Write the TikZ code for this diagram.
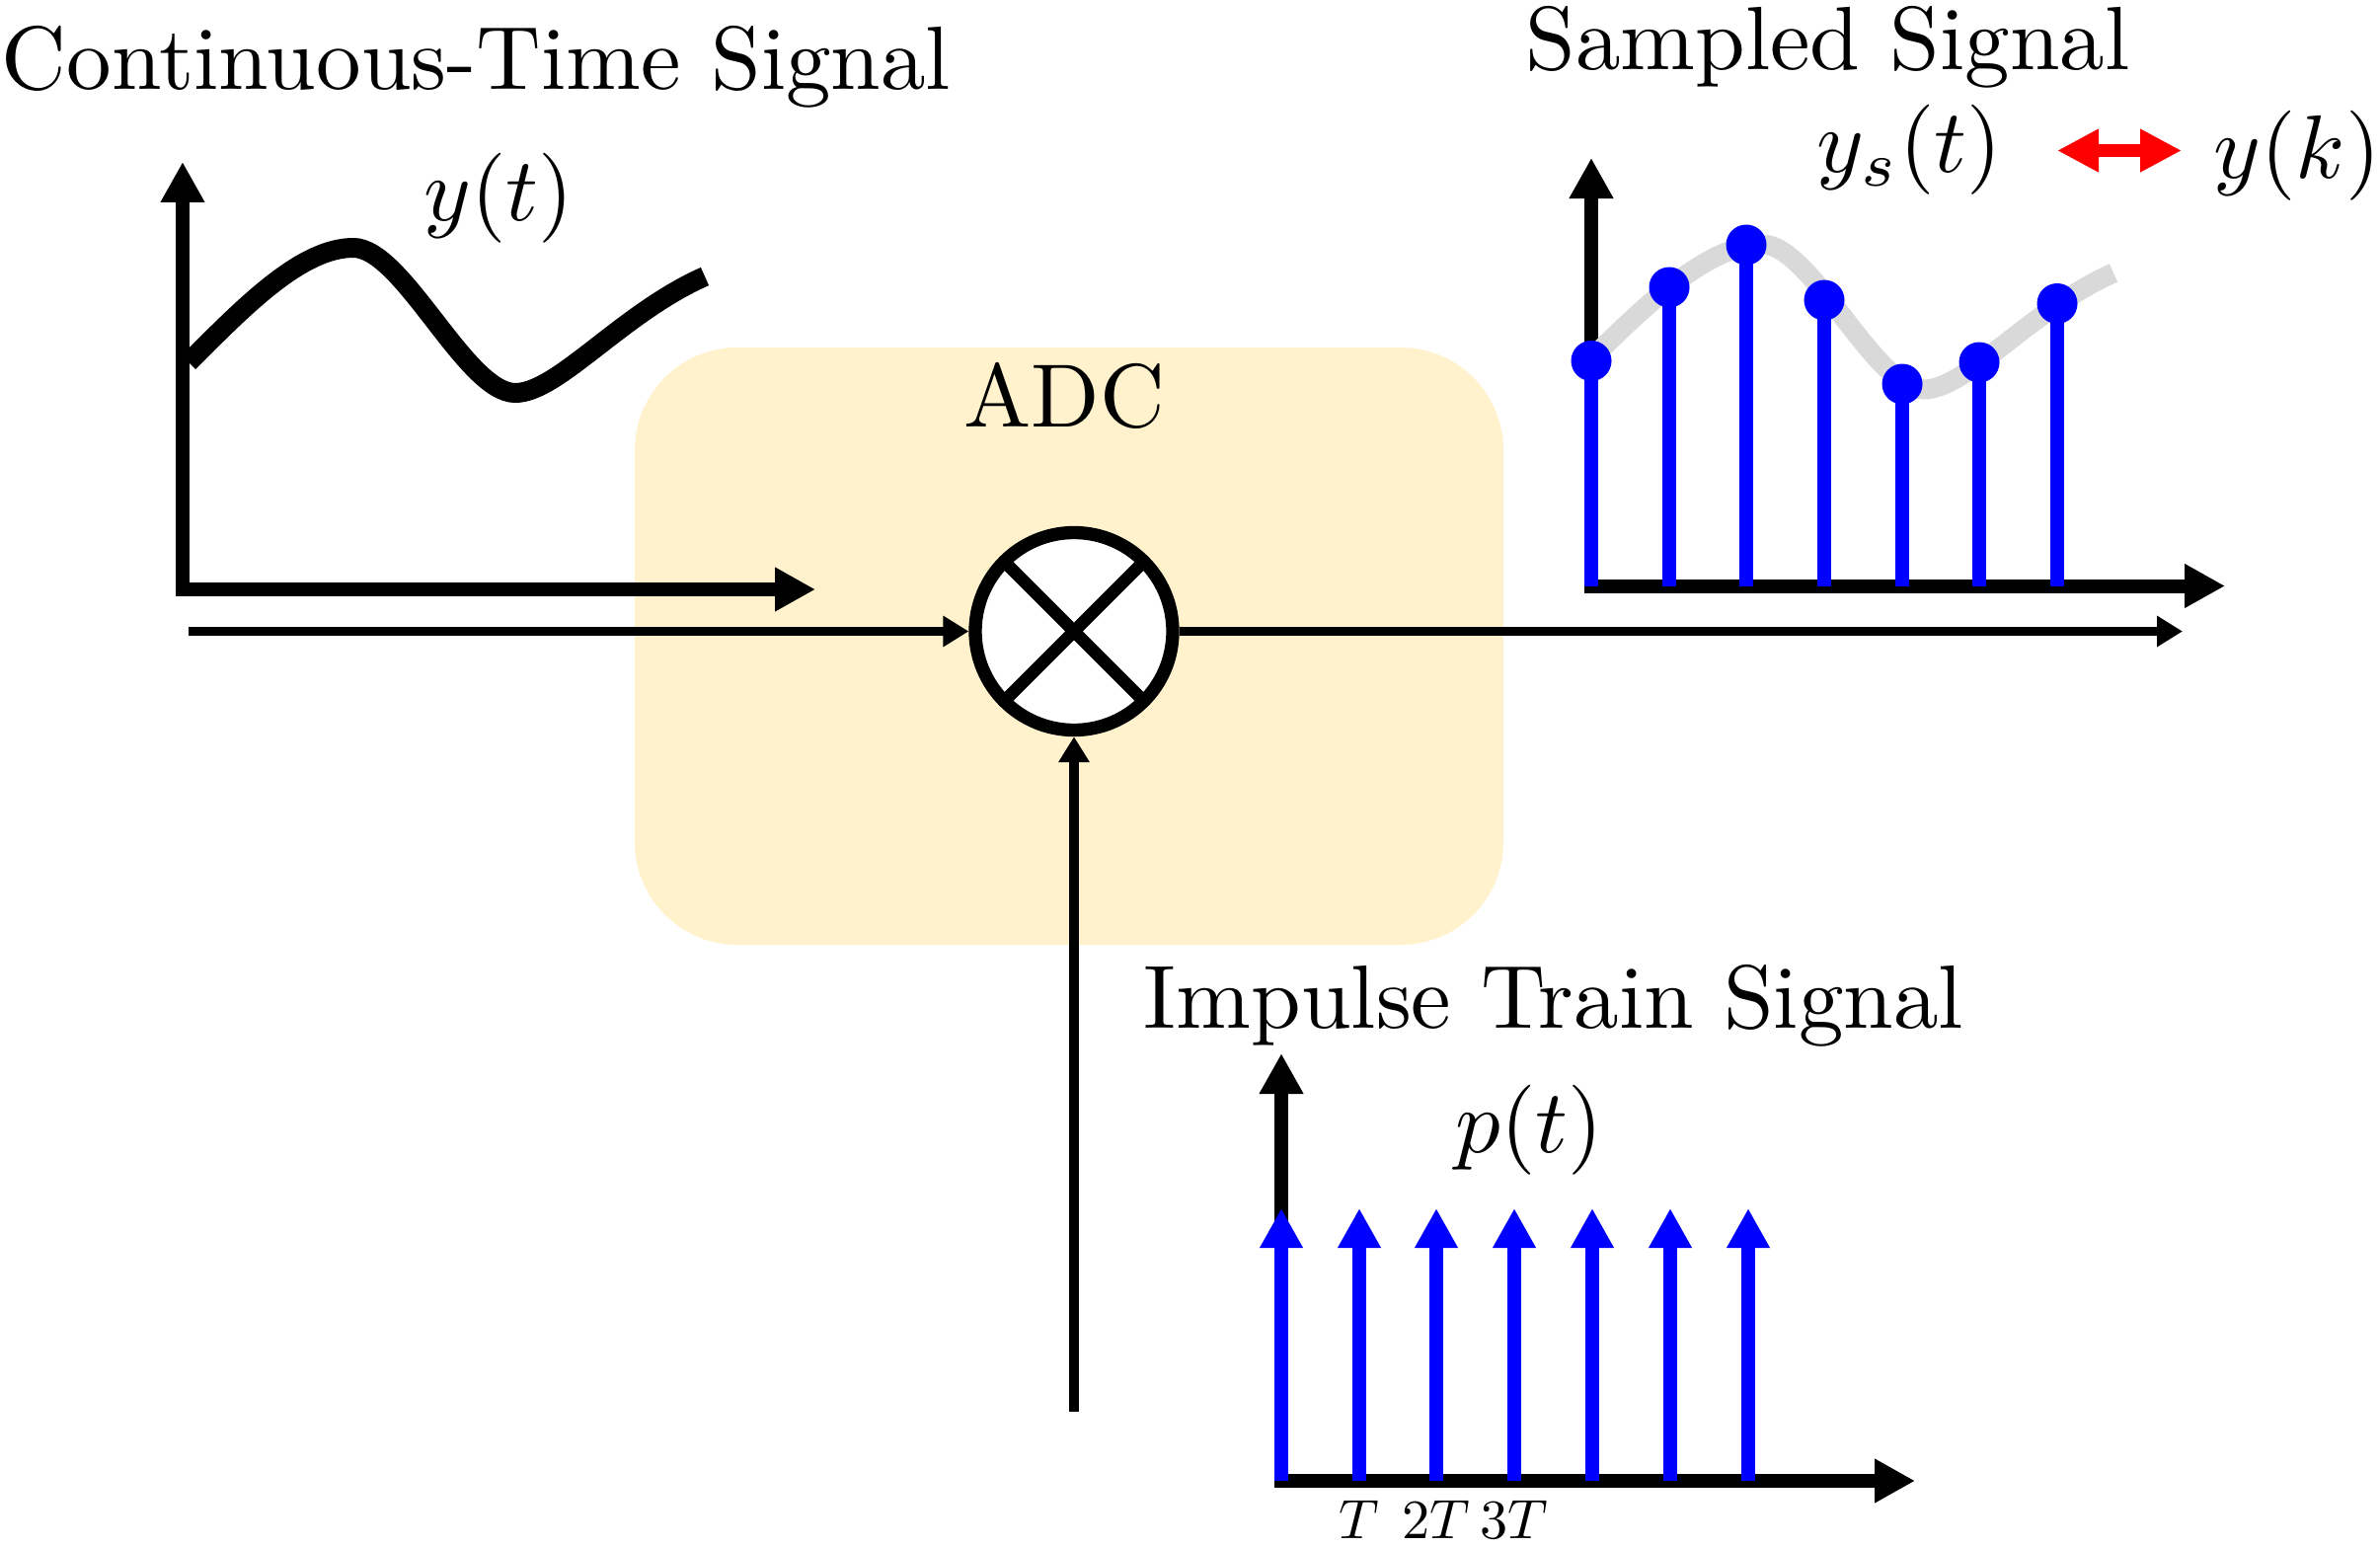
\documentclass[tikz,border=0pt]{standalone}
\usetikzlibrary{arrows.meta}
\definecolor{adcfill}{HTML}{FFF2CC}
\definecolor{sampgray}{HTML}{D9D9D9}
\begin{document}
\begin{tikzpicture}[
	titletext/.style={font=\fontsize{10}{12}\selectfont, scale=2.59, inner sep=0pt, anchor=base},
	ticktext/.style={font=\fontsize{10}{12}\selectfont, scale=1.6, inner sep=0pt, anchor=base},
	plotaxis/.style={line width=1.4mm, {Triangle[length=4.1mm,width=4.2mm]}-{Triangle[length=4.1mm,width=4.2mm]}},
	wire/.style={line width=0.95mm, -{Triangle[length=2.6mm,width=3mm]}},
	wave/.style={line width=2mm},
	stemline/.style={blue, line width=1.45mm},
	sampdot/.style={blue},
	impulse/.style={blue, line width=1.4mm, -{Triangle[length=4mm,width=4.1mm]}},
	mixer/.style={circle, draw, fill=white, line width=1.33mm, minimum size=20mm, inner sep=0pt}]
	\useasboundingbox (0,0) rectangle (24.11,15.66);
	% ADC block with the multiplier
	\fill[adcfill, rounded corners=10.4mm] (6.43,6.09) rectangle (15.23,12.14);
	\node[titletext] (adc) at (10.78,11.34) {ADC};
	\node[mixer] (mul) at (10.88,9.265) {};
	\draw[line width=1.25mm] (mul.center) +(45:1) -- +(225:1) (mul.center) +(135:1) -- +(-45:1);
	% continuous-time signal
	\node[titletext, anchor=base west] (ctitle) at (0,14.75) {Continuous-Time Signal};
	\node[titletext] (ylab) at (5.05,13.42) {$y(t)$};
	\draw[plotaxis] (1.85,14.02) |- (8.26,9.69);
	\begin{scope}[shift={(1.85,9.69)}]
		\draw[wave] (0.06,2.30) .. controls (0.62,2.86) and (1.2,3.46) .. (1.73,3.46) .. controls (2.23,3.46) and (2.87,1.99) .. (3.37,1.99) .. controls (3.8,1.99) and (4.45,2.8) .. (5.29,3.17);
	\end{scope}
	% sampled signal
	\node[titletext] (stitle) at (18.515,14.95) {Sampled Signal};
	\node[titletext] (yslab) at (19.345,13.91) {$y_s(t)$};
	\node[titletext] (yklab) at (23.27,13.855) {$y(k)$};
	\coordinate (eqL) at (20.84,14.135);
	\coordinate (eqR) at (22.10,14.135);
	\draw[red, line width=1.37mm, {Triangle[length=4.2mm,width=4.1mm]}-{Triangle[length=4.2mm,width=4.1mm]}] (eqL) -- (eqR);
	\draw[plotaxis] (16.12,14.06) |- (22.54,9.725);
	\begin{scope}[shift={(16.12,9.725)}]
		\draw[wave, sampgray] (0,2.30) .. controls (0.56,2.86) and (1.2,3.46) .. (1.73,3.46) .. controls (2.23,3.46) and (2.87,1.99) .. (3.37,1.99) .. controls (3.8,1.99) and (4.45,2.8) .. (5.29,3.17);
		\draw[stemline] (0,0) -- (0,2.28);
		\draw[stemline] (0.79,0) -- (0.79,3.025);
		\draw[stemline] (1.57,0) -- (1.57,3.455);
		\draw[stemline] (2.36,0) -- (2.36,2.895);
		\draw[stemline] (3.15,0) -- (3.15,2.045);
		\draw[stemline] (3.93,0) -- (3.93,2.265);
		\draw[stemline] (4.72,0) -- (4.72,2.86);
		\fill[sampdot] (0,2.28) circle (2.05mm) (0.79,3.025) circle (2.05mm) (1.57,3.455) circle (2.05mm) (2.36,2.895) circle (2.05mm);
		\fill[sampdot] (3.15,2.045) circle (2.05mm) (3.93,2.265) circle (2.05mm) (4.72,2.86) circle (2.05mm);
	\end{scope}
	% impulse train
	\node[titletext] (ptitle) at (15.74,5.245) {Impulse Train Signal};
	\node[titletext] (plab) at (15.49,3.99) {$p(t)$};
	\draw[plotaxis] (12.98,4.99) |- (19.40,0.66);
	\draw[impulse] (12.98,0.66) -- (12.98,3.42);
	\draw[impulse] (13.77,0.66) -- (13.77,3.42);
	\draw[impulse] (14.55,0.66) -- (14.55,3.42);
	\draw[impulse] (15.34,0.66) -- (15.34,3.42);
	\draw[impulse] (16.13,0.66) -- (16.13,3.42);
	\draw[impulse] (16.92,0.66) -- (16.92,3.42);
	\draw[impulse] (17.71,0.66) -- (17.71,3.42);
	\node[ticktext] (t1) at (13.77,0.08) {$T$};
	\node[ticktext] (t2) at (14.55,0.08) {$2T$};
	\node[ticktext] (t3) at (15.34,0.08) {$3T$};
	% signal paths
	\coordinate (yin) at (1.91,9.265);
	\coordinate (ysout) at (22.11,9.265);
	\coordinate (pin) at (10.88,1.36);
	\draw[wire] (yin) -- (mul);
	\draw[wire] (mul) -- (ysout);
	\draw[wire] (pin) -- (mul);
\end{tikzpicture}
\end{document}
